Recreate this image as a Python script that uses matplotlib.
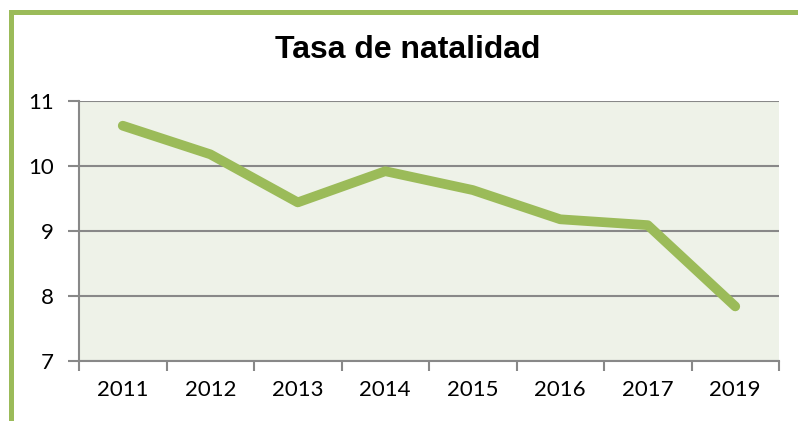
import matplotlib
matplotlib.use("Agg")
import matplotlib.pyplot as plt
from matplotlib.lines import Line2D

# data
years = ["2011", "2012", "2013", "2014", "2015", "2016", "2017", "2019"]
rate = [10.62, 10.18, 9.44, 9.92, 9.63, 9.18, 9.09, 7.84]
y_ticks = [7, 8, 9, 10, 11]

green = "#9BBB59"
grid_grey = "#888888"

fig = plt.figure(figsize=(7.98, 4.21), dpi=100)
W, H = 798, 421

# plot area in pixel coords of the reference
left, right, top, bottom = 79, 779, 101, 361
ax = fig.add_axes([left / W, 1 - bottom / H, (right - left) / W, (bottom - top) / H])
ax.set_facecolor("#EEF2E8")

x = list(range(len(years)))
ax.plot(x, rate, color=green, lw=7, solid_capstyle="round", solid_joinstyle="round",
        zorder=3)

ax.set_xlim(-0.5, len(years) - 0.5)
ax.set_ylim(7, 11)
ax.set_yticks(y_ticks)
ax.set_yticklabels([str(v) for v in y_ticks])
ax.yaxis.grid(True, color=grid_grey, lw=1.5)
ax.set_axisbelow(True)

# category ticks sit on the boundaries, labels centred
ax.set_xticks([i - 0.5 for i in range(len(years) + 1)])
ax.set_xticklabels([])
ax.set_xticks(x, minor=True)
ax.set_xticklabels(years, minor=True)
ax.tick_params(axis="x", which="major", length=7, width=1.5, color=grid_grey)
ax.tick_params(axis="x", which="minor", length=0, pad=14)
ax.tick_params(axis="y", length=8, width=1.5, color=grid_grey, pad=10)
for lab in ax.get_xticklabels(minor=True) + ax.get_yticklabels():
    lab.set_fontfamily("Lato")
    lab.set_fontsize(16)

for s in ["top", "right"]:
    ax.spines[s].set_visible(False)
for s in ["left", "bottom"]:
    ax.spines[s].set_color(grid_grey)
    ax.spines[s].set_linewidth(1.5)

fig.text(408 / W, 1 - 50 / H, "Tasa de natalidad", ha="center", va="center",
         fontsize=23, fontweight="bold", family="Liberation Sans")

# green frame of the chart (only top and left edges visible)
fig.add_artist(Line2D([10.5 / W, 1.0], [1 - 11.5 / H, 1 - 11.5 / H], color=green,
                      lw=3.6, transform=fig.transFigure))
fig.add_artist(Line2D([10.5 / W, 10.5 / W], [0, 1 - 11.5 / H], color=green,
                      lw=3.6, transform=fig.transFigure, solid_capstyle="projecting"))

fig.savefig("out.png", dpi=100)
